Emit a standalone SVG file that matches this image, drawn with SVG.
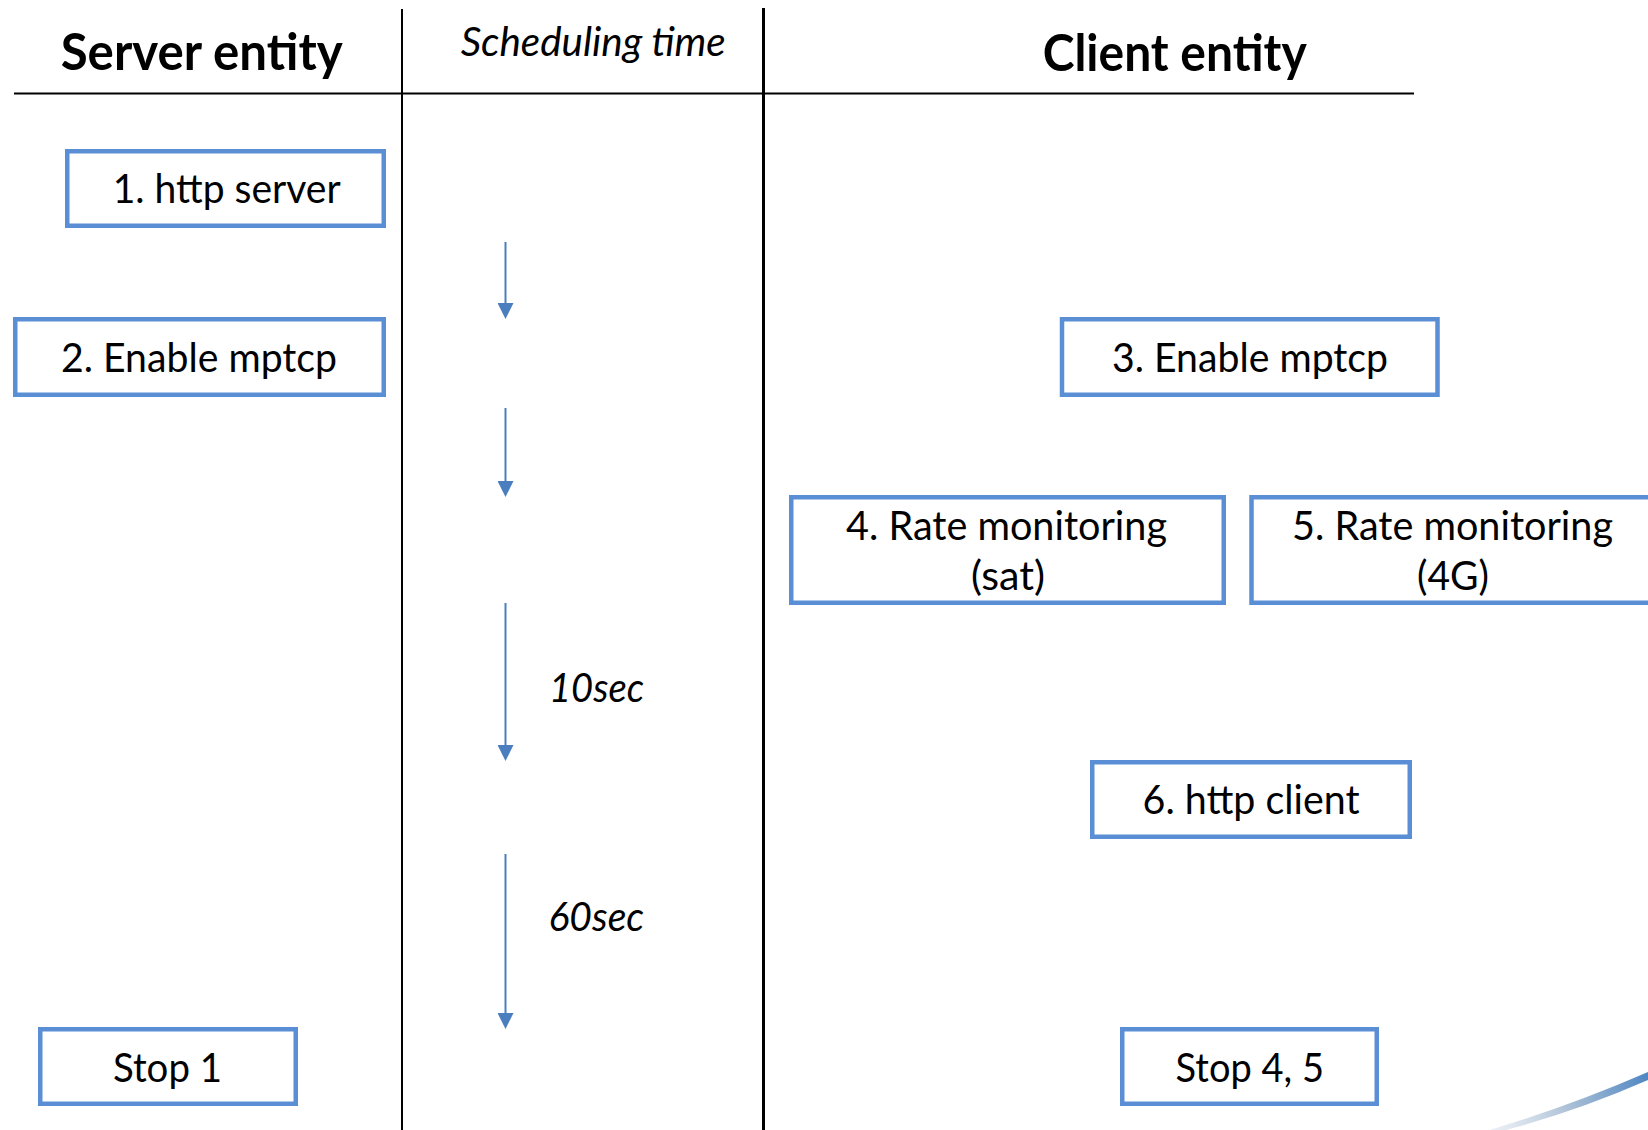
<svg xmlns="http://www.w3.org/2000/svg" width="1648" height="1130" viewBox="0 0 1648 1130">
  <style>
    .grid { stroke: #000; fill: none; }
    .box { fill: #fff; stroke: #5a8fd5; stroke-width: 4.5; }
    .lbl { font-family: Lato, "Liberation Sans", sans-serif; font-size: 40px; fill: #000; }
    .head { font-family: Lato, "Liberation Sans", sans-serif; font-size: 52px; font-weight: bold; fill: #000; }
    .time { font-family: Lato, "Liberation Sans", sans-serif; font-size: 40px; font-style: italic; fill: #000; }
    .arrow { stroke: #4a7ebf; stroke-width: 2; fill: none; marker-end: url(#tip); }
  </style>
  <defs>
    <marker id="tip" markerUnits="userSpaceOnUse" markerWidth="16" markerHeight="16" viewBox="0 0 16 16" refX="0" refY="8" orient="auto">
      <path d="M0,0 L16,8 L0,16 Z" fill="#4a7ebf"/>
    </marker>
    <linearGradient id="swoosh" x1="1490" y1="1130" x2="1648" y2="1074" gradientUnits="userSpaceOnUse">
      <stop offset="0" stop-color="#dfe6ee" stop-opacity="0.6"/>
      <stop offset="0.5" stop-color="#a9bfd6"/>
      <stop offset="1" stop-color="#4f86c2"/>
    </linearGradient>
  </defs>

  <rect width="1648" height="1130" fill="#fff"/>

  <!-- table grid -->
  <g id="grid">
    <line class="grid" x1="14" y1="93.5" x2="1414" y2="93.5" stroke-width="2"/>
    <line class="grid" x1="402" y1="9" x2="402" y2="1130" stroke-width="2"/>
    <line class="grid" x1="763.5" y1="8" x2="763.5" y2="1130" stroke-width="3"/>
  </g>

  <!-- column headings -->
  <g id="headings">
    <text class="head" x="60.7" y="70" textLength="282" lengthAdjust="spacingAndGlyphs">Server entity</text>
    <text class="time" x="460.7" y="56" textLength="265" lengthAdjust="spacingAndGlyphs">Scheduling time</text>
    <text class="head" x="1042.7" y="71" textLength="264" lengthAdjust="spacingAndGlyphs">Client entity</text>
  </g>

  <!-- server steps -->
  <g id="n1">
    <rect class="box" x="67.25" y="151.25" width="316.5" height="74.5"/>
    <text class="lbl" x="112.7" y="203" textLength="228" lengthAdjust="spacingAndGlyphs">1. http server</text>
  </g>
  <g id="n2">
    <rect class="box" x="15.25" y="319.25" width="368.5" height="75.5"/>
    <text class="lbl" x="61" y="372" textLength="276" lengthAdjust="spacingAndGlyphs">2. Enable mptcp</text>
  </g>
  <g id="stop1">
    <rect class="box" x="40.25" y="1029.25" width="255.5" height="74.5"/>
    <text class="lbl" x="113" y="1082" textLength="109" lengthAdjust="spacingAndGlyphs">Stop 1</text>
  </g>

  <!-- client steps -->
  <g id="n3">
    <rect class="box" x="1062" y="319.25" width="375.5" height="75.5"/>
    <text class="lbl" x="1112" y="372" textLength="276" lengthAdjust="spacingAndGlyphs">3. Enable mptcp</text>
  </g>
  <g id="n4">
    <rect class="box" x="791.25" y="497.25" width="432.5" height="105.5"/>
    <text class="lbl" x="846" y="540" textLength="321" lengthAdjust="spacingAndGlyphs">4. Rate monitoring</text>
    <text class="lbl" x="971" y="590" textLength="74" lengthAdjust="spacingAndGlyphs">(sat)</text>
  </g>
  <g id="n5">
    <rect class="box" x="1251.5" y="497.25" width="403.5" height="105.5"/>
    <text class="lbl" x="1292" y="540" textLength="321" lengthAdjust="spacingAndGlyphs">5. Rate monitoring</text>
    <text class="lbl" x="1417" y="590" textLength="72" lengthAdjust="spacingAndGlyphs">(4G)</text>
  </g>
  <g id="n6">
    <rect class="box" x="1092.25" y="762.25" width="317.5" height="74.5"/>
    <text class="lbl" x="1142.6" y="814" textLength="217" lengthAdjust="spacingAndGlyphs">6. http client</text>
  </g>
  <g id="stop45">
    <rect class="box" x="1122.25" y="1029.25" width="254.5" height="74.5"/>
    <text class="lbl" x="1175.6" y="1082" textLength="148.4" lengthAdjust="spacingAndGlyphs">Stop 4, 5</text>
  </g>

  <!-- time arrows -->
  <g id="connectors">
    <line class="arrow" x1="505.5" y1="242" x2="505.5" y2="303"/>
    <line class="arrow" x1="505.5" y1="408" x2="505.5" y2="481"/>
    <line class="arrow" x1="505.5" y1="603" x2="505.5" y2="745"/>
    <line class="arrow" x1="505.5" y1="854" x2="505.5" y2="1013"/>
  </g>

  <!-- delay labels -->
  <g id="delays">
    <text class="time" x="549" y="702" textLength="95" lengthAdjust="spacingAndGlyphs">10sec</text>
    <text class="time" x="548.5" y="931" textLength="95.5" lengthAdjust="spacingAndGlyphs">60sec</text>
  </g>

  <!-- decorative swoosh in the corner -->
  <path d="M1488,1130.5 Q1570,1106 1648,1072 L1648,1080 Q1575,1112 1502,1131 Z" fill="url(#swoosh)"/>
</svg>
